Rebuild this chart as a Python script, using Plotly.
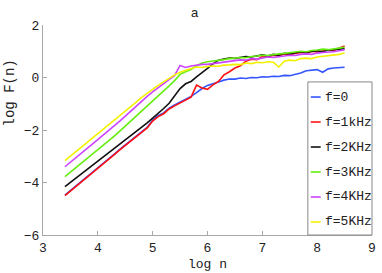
import numpy as np
import plotly.graph_objects as go

log_n = [round(3.4 + 0.1 * i, 2) for i in range(52)]

f0 = [-4.48, -4.31, -4.13, -3.96, -3.78, -3.61, -3.44, -3.26, -3.09, -2.92,
      -2.74, -2.57, -2.40, -2.22, -2.05, -1.90, -1.62, -1.45, -1.35, -1.17,
      -1.05, -0.95, -0.83, -0.72, -0.58, -0.42, -0.30, -0.22, -0.17, -0.10,
      -0.06, -0.06, -0.02, -0.04, 0.00, -0.01, 0.03, 0.02, 0.05, 0.04,
      0.08, 0.07, 0.12, 0.17, 0.26, 0.28, 0.30, 0.20, 0.33, 0.36, 0.38, 0.39]
f1 = [-4.50, -4.33, -4.15, -3.98, -3.80, -3.63, -3.46, -3.28, -3.11, -2.94,
      -2.76, -2.59, -2.42, -2.24, -2.08, -1.92, -1.66, -1.49, -1.38, -1.20,
      -1.08, -0.97, -0.85, -0.75, -0.29, -0.40, -0.45, -0.28, -0.15, 0.10,
      0.22, 0.36, 0.45, 0.62, 0.70, 0.68, 0.80, 0.78, 0.85, 0.82,
      0.90, 0.86, 0.92, 0.95, 0.93, 1.00, 0.97, 1.02, 1.05, 1.03, 1.10, 1.20]
f2 = [-4.16, -4.00, -3.84, -3.68, -3.52, -3.36, -3.20, -3.04, -2.88, -2.72,
      -2.56, -2.39, -2.22, -2.05, -1.90, -1.73, -1.55, -1.38, -1.18, -0.98,
      -0.70, -0.42, -0.24, -0.15, 0.02, 0.20, 0.35, 0.52, 0.66, 0.70,
      0.74, 0.73, 0.76, 0.80, 0.78, 0.82, 0.86, 0.82, 0.88, 0.85,
      0.92, 0.90, 0.94, 0.98, 0.96, 1.00, 1.02, 0.98, 1.05, 1.06, 1.08, 1.10]
f3 = [-3.78, -3.61, -3.44, -3.27, -3.10, -2.93, -2.76, -2.58, -2.41, -2.23,
      -2.04, -1.85, -1.66, -1.47, -1.28, -1.10, -0.92, -0.72, -0.52, -0.32,
      -0.12, 0.12, 0.22, 0.30, 0.45, 0.55, 0.60, 0.62, 0.66, 0.68,
      0.72, 0.74, 0.76, 0.75, 0.80, 0.82, 0.85, 0.84, 0.88, 0.90,
      0.92, 0.95, 0.97, 1.00, 0.98, 1.03, 1.05, 1.08, 1.06, 1.10, 1.12, 1.15]
f4 = [-3.40, -3.22, -3.05, -2.88, -2.71, -2.54, -2.37, -2.20, -2.02, -1.84,
      -1.66, -1.47, -1.28, -1.08, -0.90, -0.72, -0.55, -0.40, -0.24, -0.08,
      0.08, 0.46, 0.38, 0.44, 0.48, 0.50, 0.50, 0.53, 0.55, 0.58,
      0.62, 0.65, 0.67, 0.66, 0.72, 0.70, 0.75, 0.78, 0.76, 0.80,
      0.82, 0.85, 0.84, 0.88, 0.90, 0.88, 0.93, 0.95, 0.96, 0.98, 1.02, 1.06]
f5 = [-3.17, -2.99, -2.82, -2.65, -2.48, -2.31, -2.14, -1.98, -1.82, -1.65,
      -1.48, -1.30, -1.12, -0.94, -0.76, -0.59, -0.45, -0.30, -0.16, -0.02,
      0.10, 0.20, 0.28, 0.34, 0.40, 0.38, 0.42, 0.44, 0.43, 0.47,
      0.48, 0.50, 0.49, 0.55, 0.53, 0.58, 0.56, 0.60, 0.58, 0.40,
      0.62, 0.66, 0.64, 0.72, 0.74, 0.72, 0.78, 0.80, 0.82, 0.85, 0.88, 0.93]

series = [f0, f1, f2, f3, f4, f5]
names = ["f=0", "f=1kHz", "f=2KHz", "f=3KHz", "f=4KHz", "f=5KHz"]
colors = ["#3355ff", "#ff1111", "#111111", "#66ee11", "#cc44ff", "#f2f200"]

x_ticks = [3, 4, 5, 6, 7, 8, 9]
y_ticks = [-6, -4, -2, 0, 2]

MONO = "Liberation Mono, Courier New, monospace"

fig = go.Figure()
for ys, nm, c in zip(series, names, colors):
    fig.add_trace(go.Scatter(x=log_n, y=ys, mode="lines", name=nm,
                             line=dict(color=c, width=1.6), showlegend=False))

axis_common = dict(showgrid=False, zeroline=False, showline=True,
                   linecolor="#a8a8a8", linewidth=1, ticks="inside",
                   ticklen=4, tickcolor="#a8a8a8", mirror=False,
                   tickfont=dict(family=MONO, size=13, color="#222222"))

fig.update_layout(
    width=382, height=273,
    margin=dict(l=43, r=6, t=25, b=38),
    paper_bgcolor="white", plot_bgcolor="white",
    xaxis=dict(range=[3, 9], tickvals=x_ticks, **axis_common),
    yaxis=dict(range=[-6, 2], tickvals=y_ticks, **axis_common),
    showlegend=False,
)

# titles
fig.add_annotation(text="a", xref="paper", yref="paper", x=0.462, y=1.0,
                   yanchor="bottom", xanchor="center", showarrow=False,
                   font=dict(family="Liberation Sans, Arial", size=13, color="#222"),
                   yshift=3)
fig.add_annotation(text="log n", xref="paper", yref="paper", x=0.5, y=0,
                   yanchor="top", xanchor="center", showarrow=False,
                   font=dict(family=MONO, size=13, color="#222"), yshift=-20)
fig.add_annotation(text="log F(n)", xref="paper", yref="paper", x=-0.099, y=0.676,
                   textangle=-90, xanchor="center", yanchor="middle",
                   showarrow=False, font=dict(family=MONO, size=14, color="#222"))

# legend box
lx0, lx1, ly0, ly1 = 0.805, 1.0, 0.0, 0.729
fig.add_shape(type="rect", xref="paper", yref="paper", x0=lx0, x1=lx1,
              y0=ly0, y1=ly1, line=dict(color="#888888", width=1),
              fillcolor="white", layer="above")
for i, (nm, c) in enumerate(zip(names, colors)):
    yy = 0.657 - i * 0.119
    fig.add_shape(type="line", xref="paper", yref="paper",
                  x0=lx0 + 0.009, x1=lx0 + 0.039, y0=yy, y1=yy,
                  line=dict(color=c, width=1.6), layer="above")
    fig.add_annotation(text=nm, xref="paper", yref="paper", x=lx0 + 0.045, y=yy,
                       xanchor="left", yanchor="middle", showarrow=False,
                       font=dict(family=MONO, size=13, color="#222"))

fig.write_html("out.html", config={"displayModeBar": False},
               post_script="document.body.style.margin='0';document.body.style.padding='0';")
